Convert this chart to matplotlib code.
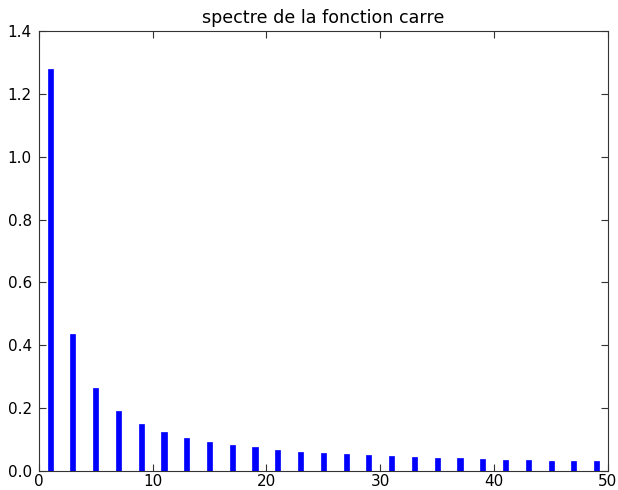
import matplotlib
matplotlib.use("Agg")
import matplotlib.pyplot as plt

harmonics = [1, 3, 5, 7, 9, 11, 13, 15, 17, 19, 21, 23, 25, 27, 29, 31, 33, 35, 37, 39, 41, 43, 45, 47, 49]
amplitudes = [1.280, 0.435, 0.264, 0.191, 0.150, 0.124, 0.106, 0.093, 0.082, 0.075,
              0.068, 0.062, 0.057, 0.053, 0.050, 0.047, 0.044, 0.042, 0.040, 0.038,
              0.036, 0.035, 0.033, 0.032, 0.031]
title = "spectre de la fonction carre"

plt.rcParams['font.family'] = ['DejaVu Sans']
fig = plt.figure(figsize=(6.18, 4.9), dpi=100)
ax = fig.add_axes([38.7/618, 1 - 471/490, (608 - 38.7)/618, (471 - 31)/490])
ax.bar(harmonics, amplitudes, width=0.45, color='blue', edgecolor='blue', linewidth=0.5, align='center')
ax.set_xlim(0, 50)
ax.set_ylim(0, 1.4)
ax.set_xticks([0, 10, 20, 30, 40, 50])
ax.set_yticks([0.0, 0.2, 0.4, 0.6, 0.8, 1.0, 1.2, 1.4])
ax.set_yticklabels(['0.0', '0.2', '0.4', '0.6', '0.8', '1.0', '1.2', '1.4'])
ax.tick_params(direction='in', top=True, right=True, labelsize=11, length=5, pad=5, color='#333333')
ax.tick_params(axis='x', pad=2.5)
for s in ax.spines.values():
    s.set_color('#333333')
ax.set_title(title, fontsize=12.6, pad=6)
fig.savefig('out.png', dpi=100)
